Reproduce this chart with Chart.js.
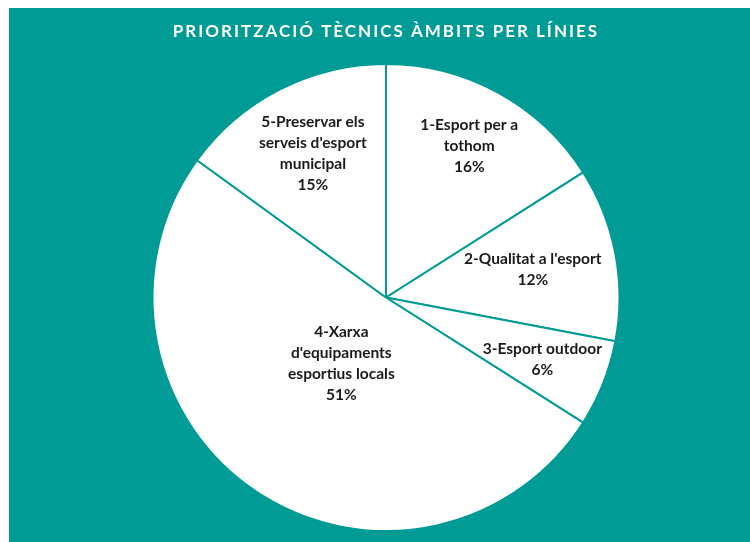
<!DOCTYPE html>
<html>
<head>
<meta charset="utf-8">
<script src="https://cdn.jsdelivr.net/npm/chart.js@4.4.0/dist/chart.umd.min.js"></script>
<style>
  html, body { margin: 0; padding: 0; background: #fff; }
  #wrap { position: absolute; left: 9px; top: 8px; width: 741px; height: 534px; background: #009b94; }
</style>
</head>
<body>
<div id="wrap"><canvas id="piechart"></canvas></div>
<script>
const chartTitle = 'PRIORITZACIÓ TÈCNICS ÀMBITS PER LÍNIES';
const categories = [
    ['1-Esport per a', 'tothom'],
    ['2-Qualitat a l\'esport'],
    ['3-Esport outdoor'],
    ['4-Xarxa', 'd\'equipaments', 'esportius locals'],
    ['5-Preservar els', 'serveis d\'esport', 'municipal']
];
const values = [16, 12, 6, 51, 15];

// how far out along the slice each label sits (fraction of radius)
const labelRadius = [0.74, 0.64, 0.72, 0.34, 0.69];

const teal = '#009b94';

const pieLabels = {
    id: 'pieLabels',
    afterDatasetsDraw(chart) {
        const ctx = chart.ctx;
        const meta = chart.getDatasetMeta(0);
        const total = values.reduce((a, b) => a + b, 0);
        ctx.save();
        ctx.fillStyle = '#1a1a1a';
        ctx.font = 'bold 15.5px Lato';
        ctx.textAlign = 'center';
        ctx.textBaseline = 'middle';
        meta.data.forEach(function(arc, i) {
            const p = arc.getProps(['x', 'y', 'startAngle', 'endAngle', 'outerRadius'], true);
            const mid = (p.startAngle + p.endAngle) / 2;
            const r = p.outerRadius * labelRadius[i];
            const cx = p.x + Math.cos(mid) * r;
            const cy = p.y + Math.sin(mid) * r;
            const lines = categories[i].concat([Math.round(values[i] / total * 100) + '%']);
            const lh = 21;
            const top = cy - (lines.length - 1) * lh / 2;
            lines.forEach(function(t, k) {
                ctx.fillText(t, cx, top + k * lh);
            });
        });

        // title
        const c = meta.data[0];
        ctx.fillStyle = '#ffffff';
        ctx.font = 'bold 17px Lato';
        ctx.letterSpacing = '2px';
        ctx.fillText(chartTitle, c.x, 24);
        ctx.restore();
    }
};

new Chart(document.getElementById('piechart'), {
    type: 'pie',
    data: {
        labels: categories,
        datasets: [{
            data: values,
            backgroundColor: '#ffffff',
            borderColor: teal,
            borderWidth: 2
        }]
    },
    options: {
        responsive: true,
        maintainAspectRatio: false,
        animation: false,
        layout: { padding: { left: 142, right: 129, top: 55, bottom: 10 } },
        plugins: {
            legend: { display: false },
            tooltip: { enabled: false },
            title: { display: false }
        }
    },
    plugins: [pieLabels]
});
</script>
</body>
</html>
